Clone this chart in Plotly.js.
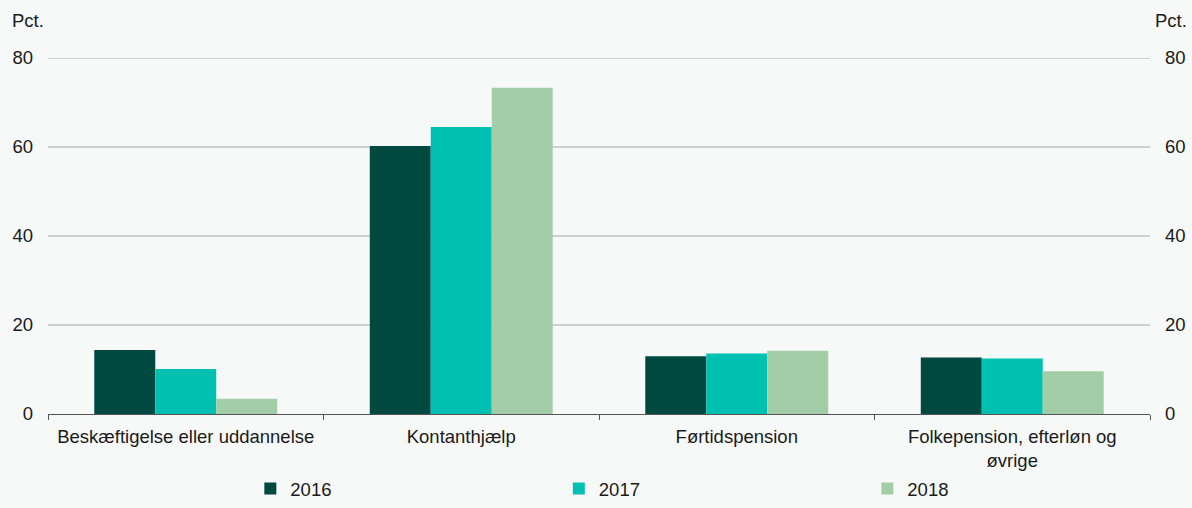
<!DOCTYPE html>
<html>
<head>
<meta charset="utf-8">
<script src="https://cdn.plot.ly/plotly-3.0.1.min.js"></script>
<style>html,body{margin:0;padding:0;background:#f7f9f8;}#chart{width:1192px;height:508px;}</style>
</head>
<body>
<div id="chart"></div>
<script>
const categories = ["Beskæftigelse eller uddannelse", "Kontanthjælp", "Førtidspension", "Folkepension, efterløn og<br>øvrige"];
const seriesNames = ["2016", "2017", "2018"];
const values2016 = [14.4, 60.2, 13.0, 12.7];
const values2017 = [10.1, 64.5, 13.6, 12.5];
const values2018 = [3.4, 73.3, 14.2, 9.6];
const colors = ["#004941", "#00c1b1", "#a3cda6"];
const yTicks = [0, 20, 40, 60, 80];
const unitLabel = "Pct.";

const allValues = [values2016, values2017, values2018];
const font = {family: "Liberation Sans, Arial, sans-serif", size: 18.5, color: "#1a1a1a"};

const traces = allValues.map((v, i) => ({
  type: "bar", x: categories, y: v, name: seriesNames[i],
  marker: {color: colors[i], line: {width: 0}}, hoverinfo: "none"
}));
traces.push({type: "scatter", x: categories, y: values2016, yaxis: "y2", mode: "none", showlegend: false, hoverinfo: "none"});

const gridShapes = yTicks.filter(t => t !== 0).map(t => ({
  type: "line", xref: "paper", yref: "y", x0: 0, x1: 1, y0: t, y1: t,
  line: {color: "#a6a6a6", width: 1}, layer: "below"
}));

const layout = {
  width: 1192, height: 508,
  paper_bgcolor: "#f7f9f8", plot_bgcolor: "#f7f9f8",
  font: font,
  margin: {l: 48, r: 42, t: 58, b: 94},
  barmode: "group", bargap: 0.336, bargroupgap: 0,
  showlegend: true,
  legend: {orientation: "h", xref: "paper", yref: "container", x: 0.1836, xanchor: "left", y: -0.0417, yanchor: "bottom",
           entrywidth: 263.5, entrywidthmode: "pixels", font: font, bgcolor: "rgba(0,0,0,0)", traceorder: "normal"},
  xaxis: {type: "category", showgrid: false, showline: true, linecolor: "#555", linewidth: 1,
          ticks: "outside", tickson: "boundaries", ticklen: 5, tickcolor: "#555",
          tickfont: font, ticklabelstandoff: 6, zeroline: false, automargin: false},
  yaxis: {range: [0, 80], tickvals: yTicks, showgrid: false,
          zeroline: false, showline: false, ticks: "", tickfont: font, ticklabelstandoff: 14, automargin: false},
  yaxis2: {range: [0, 80], tickvals: yTicks, overlaying: "y", side: "right", showgrid: false,
           zeroline: false, showline: false, ticks: "", tickfont: font, ticklabelstandoff: 14, automargin: false},
  shapes: gridShapes,
  annotations: [
    {text: unitLabel, xref: "paper", yref: "paper", x: 0, xshift: -38, y: 1, yshift: 38, xanchor: "left", yanchor: "middle", showarrow: false, font: font},
    {text: unitLabel, xref: "paper", yref: "paper", x: 1, xshift: 3, y: 1, yshift: 38, xanchor: "left", yanchor: "middle", showarrow: false, font: font}
  ]
};

Plotly.newPlot("chart", traces, layout, {staticPlot: true, displayModeBar: false});
</script>
</body>
</html>
